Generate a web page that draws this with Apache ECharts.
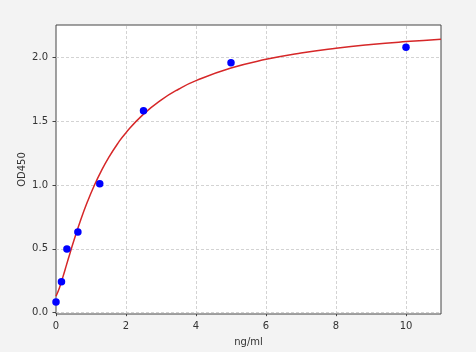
<!DOCTYPE html>
<html>
<head>
<meta charset="utf-8">
<script src="https://cdn.jsdelivr.net/npm/echarts@6/dist/echarts.min.js"></script>
<style>
html,body{margin:0;padding:0;background:#f3f3f3;}
#c{width:476px;height:352px;}
</style>
</head>
<body>
<div id="c"></div>
<script>
// Measured standard points
const concX = [0, 0.156, 0.312, 0.625, 1.25, 2.5, 5, 10];
const odY = [0.084, 0.243, 0.499, 0.632, 1.01, 1.582, 1.958, 2.078];
// Fitted curve
const curveX = [0, 0.1, 0.2, 0.3, 0.4, 0.5, 0.7, 0.9, 1.1, 1.3, 1.5, 1.75, 2, 2.5, 3, 3.5, 4, 5, 6, 7, 8, 9, 10, 11];
const curveY = [0.13, 0.196, 0.282, 0.374, 0.466, 0.555, 0.722, 0.87, 1.0, 1.113, 1.212, 1.319, 1.41, 1.555, 1.665, 1.75, 1.817, 1.916, 1.984, 2.034, 2.071, 2.1, 2.123, 2.142];
const yTicks = [0, 0.5, 1.0, 1.5, 2.0];
const xTicks = [0, 2, 4, 6, 8, 10];

const chart = echarts.init(document.getElementById('c'));
const gridStyle = {color: '#c8c8c8', type: [3, 2], width: 0.8};
chart.setOption({
  animation: false,
  backgroundColor: '#f3f3f3',
  grid: {left: 56, right: 35, top: 25, bottom: 38, show: true, backgroundColor: '#ffffff', borderColor: '#444', borderWidth: 1},
  xAxis: {
    type: 'value', min: 0, max: 11,
    name: 'ng/ml', nameLocation: 'middle', nameGap: 23, nameMoveOverlap: false,
    nameTextStyle: {fontFamily: 'DejaVu Sans', fontSize: 10, color: '#333'},
    axisLine: {show: false},
    axisTick: {show: true, length: 3.5, customValues: xTicks, lineStyle: {color: '#444'}},
    axisLabel: {fontFamily: 'DejaVu Sans', fontSize: 10, color: '#333', margin: 7, customValues: xTicks},
    splitLine: {show: false}
  },
  yAxis: {
    type: 'value', min: -0.0105, max: 2.253,
    name: 'OD450', nameLocation: 'middle', nameGap: 29, nameRotate: 90, nameMoveOverlap: false,
    nameTextStyle: {fontFamily: 'DejaVu Sans', fontSize: 10, color: '#333'},
    axisLine: {show: false},
    axisTick: {show: true, length: 3.5, customValues: yTicks, lineStyle: {color: '#444'}},
    axisLabel: {fontFamily: 'DejaVu Sans', fontSize: 10, color: '#333', margin: 8, customValues: yTicks,
      formatter: v => v.toFixed(1)},
    splitLine: {show: false}
  },
  series: [
    {
      type: 'line', data: [], silent: true, z: 1,
      markLine: {
        silent: true, symbol: 'none', label: {show: false}, z: 1,
        lineStyle: gridStyle,
        data: yTicks.map(v => ({yAxis: v})).concat(xTicks.filter(v => v > 0).map(v => ({xAxis: v})))
      }
    },
    {
      type: 'line', data: curveX.map((x, i) => [x, curveY[i]]), smooth: true,
      showSymbol: false, lineStyle: {color: '#d62728', width: 1.5}, z: 3
    },
    {
      type: 'scatter', data: concX.map((x, i) => [x, odY[i]]),
      symbolSize: 7.5, itemStyle: {color: '#0000ff', opacity: 1}, z: 4
    }
  ]
});
</script>
</body>
</html>
